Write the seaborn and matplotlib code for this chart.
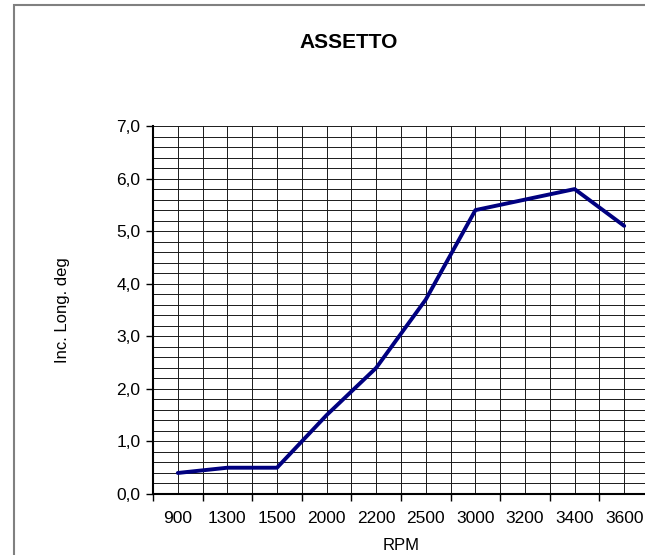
import numpy as np
import matplotlib
matplotlib.use("Agg")
import matplotlib.pyplot as plt
from matplotlib.patches import Rectangle
import seaborn as sns

# data
rpm = ["900", "1300", "1500", "2000", "2200", "2500", "3000", "3200", "3400", "3600"]
inclination = [0.4, 0.5, 0.5, 1.5, 2.4, 3.7, 5.4, 5.6, 5.8, 5.1]
y_ticks = [0, 1, 2, 3, 4, 5, 6, 7]

sns.set_style("white")
plt.rcParams["font.family"] = ["Liberation Sans", "DejaVu Sans"]
plt.rcParams["text.color"] = "black"
plt.rcParams["xtick.color"] = "black"
plt.rcParams["ytick.color"] = "black"

fig = plt.figure(figsize=(6.45, 5.55), dpi=100)
# axes run past the right edge, as in the original export
ax = fig.add_axes([153 / 645, 1 - 494 / 555, 496 / 645, 368 / 555])

positions = np.arange(len(rpm))
sns.lineplot(x=positions, y=inclination, ax=ax, color="#000080",
             linewidth=2.8, sort=False)

ax.set_xlim(-0.5, len(rpm) - 0.5)
ax.set_ylim(0, 7)

# x: tick marks between categories, labels at category centers
ax.set_xticks(np.arange(-0.5, len(rpm), 1))
ax.set_xticklabels([])
ax.set_xticks(positions, minor=True)
ax.set_xticklabels(rpm, minor=True, fontsize=12.5)
ax.tick_params(axis="x", which="major", direction="out", length=5,
               width=1, color="black", bottom=True)
ax.tick_params(axis="x", which="minor", length=0, pad=12)

ax.set_yticks(y_ticks)
ax.set_yticklabels([f"{v:.1f}".replace(".", ",") for v in y_ticks], fontsize=12.5)
ax.set_yticks(np.arange(0, 7.01, 0.2), minor=True)
ax.tick_params(axis="y", which="major", direction="out", length=5,
               width=1, color="black", left=True, pad=4)
ax.tick_params(axis="y", which="minor", length=0)

ax.grid(True, which="both", color="#1a1a1a", linewidth=0.7)
ax.set_axisbelow(True)

for side in ["top", "right"]:
    ax.spines[side].set_visible(False)
for side in ["left", "bottom"]:
    ax.spines[side].set_color("black")
    ax.spines[side].set_linewidth(1.5)

ax.set_xlabel("")
ax.set_ylabel("")
fig.text(349 / 645, 1 - 43 / 555, "ASSETTO", fontsize=15, fontweight="bold",
         ha="center", va="center")
fig.text(62 / 645, 1 - 310 / 555, "Inc. Long. deg", fontsize=12,
         rotation=90, ha="center", va="center")
fig.text(401 / 645, 1 - 553 / 555, "RPM", fontsize=12, ha="center", va="bottom")

# outer chart border
fig.patches.append(Rectangle((14 / 645, -0.1), 1.2, 1 - 5 / 555 + 0.1,
                             transform=fig.transFigure, fill=False,
                             edgecolor="#808080", linewidth=1.5))

fig.savefig("out.png", dpi=100)
